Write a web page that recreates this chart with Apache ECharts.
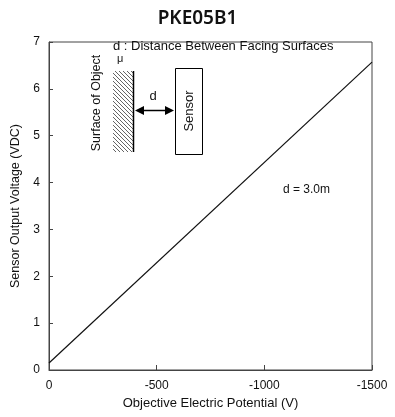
<!DOCTYPE html>
<html><head><meta charset="utf-8">
<script src="https://cdn.jsdelivr.net/npm/echarts@6/dist/echarts.min.js"></script>
<style>html,body{margin:0;padding:0;background:#fff}#c{width:395px;height:417px}</style>
</head><body><div id="c"></div>
<script>
var title = 'PKE05B1';
var xTicks = [0, -500, -1000, -1500];
var yTicks = [0, 1, 2, 3, 4, 5, 6, 7];
var potential = [0, -1500];
var voltage = [0.15, 6.57];
var annotation = 'd = 3.0m';

var chart = echarts.init(document.getElementById('c'));
var hatch = document.createElement('canvas');
hatch.width = 4; hatch.height = 4;
var hc = hatch.getContext('2d');
hc.fillStyle = '#fff'; hc.fillRect(0,0,4,4);
hc.strokeStyle = '#222'; hc.lineWidth = 0.7;
hc.beginPath(); hc.moveTo(-1,-1); hc.lineTo(5,5); hc.stroke();
hc.beginPath(); hc.moveTo(-1,3); hc.lineTo(1,5); hc.stroke();
hc.beginPath(); hc.moveTo(3,-1); hc.lineTo(5,1); hc.stroke();

var font = 'Liberation Sans, Arial, sans-serif';
chart.setOption({
  animation: false,
  title: {text: title, left: 'center', top: 4,
    textStyle: {fontFamily: 'Noto Sans, sans-serif', fontWeight: 600, fontSize: 19, color: '#111'}},
  grid: {left: 49, right: 23, top: 42, bottom: 47, show: true, borderColor: '#444', borderWidth: 1,
    containLabel: false, outerBoundsMode: 'none'},
  xAxis: {type: 'value', min: -1500, max: 0, interval: 500, inverse: true,
    name: 'Objective Electric Potential (V)', nameLocation: 'middle', nameGap: 27,
    nameTextStyle: {fontFamily: font, fontSize: 13, color: '#111'},
    axisLine: {lineStyle: {color: '#444'}},
    axisTick: {inside: true, length: 5, lineStyle: {color: '#444'}},
    axisLabel: {fontFamily: font, fontSize: 12, color: '#111', margin: 10,
      formatter: function(v){ return String(v); }},
    splitLine: {show: false}},
  yAxis: {type: 'value', min: 0, max: 7, interval: 1,
    name: 'Sensor Output Voltage (VDC)', nameLocation: 'middle', nameGap: 26, nameRotate: 90,
    nameTextStyle: {fontFamily: font, fontSize: 12.5, color: '#111'},
    axisLine: {show: true, lineStyle: {color: '#444'}},
    axisTick: {show: true, inside: true, length: 4, lineStyle: {color: '#444'}},
    axisLabel: {fontFamily: font, fontSize: 12, color: '#111', margin: 9,
      formatter: function(v){ return String(v); }},
    splitLine: {show: false}},
  series: [{type: 'line', data: potential.map(function(p,i){return [p, voltage[i]];}),
    symbol: 'none', lineStyle: {color: '#111', width: 1.2}}],
  graphic: [
    {type: 'text', left: 113, top: 40, style: {text: 'd : Distance Between Facing Surfaces', font: '13px ' + font, fill: '#111'}},
    {type: 'text', left: 117, top: 53, style: {text: 'μ', font: '11px ' + font, fill: '#111'}},
    {type: 'rect', shape: {x: 113, y: 71, width: 20, height: 81}, style: {fill: {image: hatch, repeat: 'repeat'}, stroke: null}},
    {type: 'line', shape: {x1: 133.5, y1: 71, x2: 133.5, y2: 152}, style: {stroke: '#000', lineWidth: 1.5}},
    {type: 'text', x: 97, y: 103, rotation: Math.PI/2, style: {text: 'Surface of Object', font: '12.5px ' + font, fill: '#111', align: 'center', verticalAlign: 'middle'}},
    {type: 'line', shape: {x1: 140, y1: 110.5, x2: 168, y2: 110.5}, style: {stroke: '#000', lineWidth: 1.5}},
    {type: 'polygon', shape: {points: [[135,110.5],[144,106],[144,115]]}, style: {fill: '#000'}},
    {type: 'polygon', shape: {points: [[174,110.5],[165,106],[165,115]]}, style: {fill: '#000'}},
    {type: 'text', x: 153, y: 96, style: {text: 'd', font: '13px ' + font, fill: '#111', align: 'center', verticalAlign: 'middle'}},
    {type: 'rect', shape: {x: 175.5, y: 68.5, width: 27, height: 86}, style: {fill: '#fff', stroke: '#000', lineWidth: 1}},
    {type: 'text', x: 189, y: 111, rotation: Math.PI/2, style: {text: 'Sensor', font: '13px ' + font, fill: '#111', align: 'center', verticalAlign: 'middle'}},
    {type: 'text', left: 283, top: 184, style: {text: annotation, font: '12px ' + font, fill: '#111'}}
  ]
});
</script></body></html>
